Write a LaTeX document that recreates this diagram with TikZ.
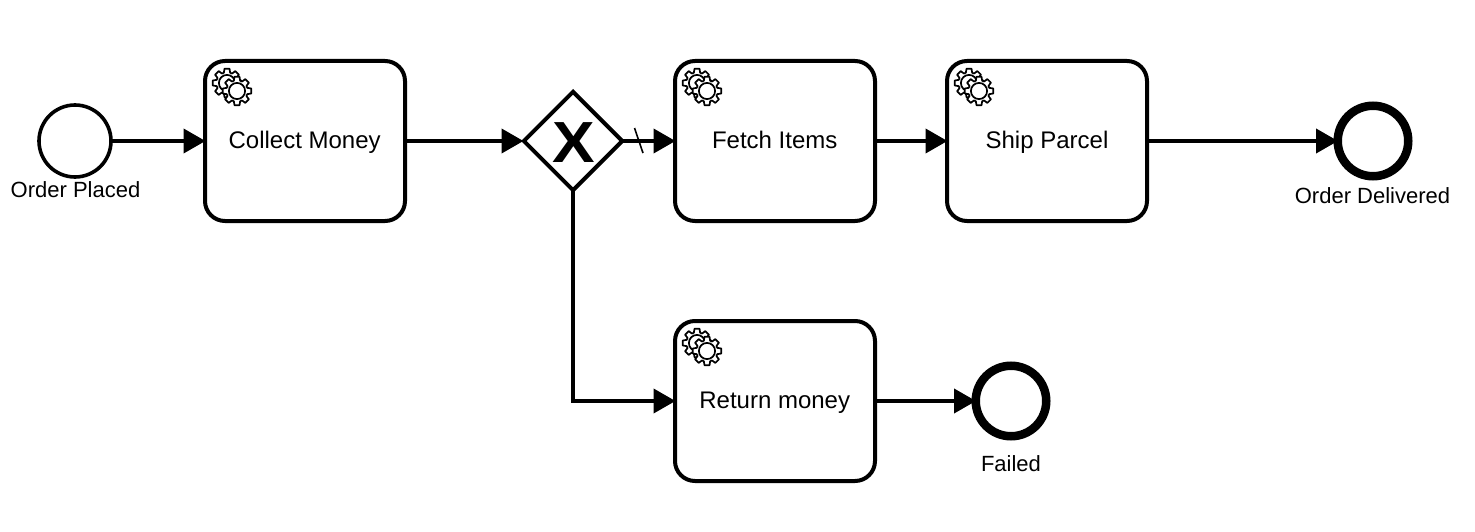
\documentclass[tikz,border=0pt]{standalone}
\usepackage{fontspec}
\setmainfont{Liberation Sans}
\usetikzlibrary{arrows.meta,shapes.geometric}
\tikzset{
  task/.style={draw,line width=4pt,rounded corners=20pt,minimum width=200pt,minimum height=160pt,inner sep=0pt,fill=white},
  tasktext/.style={font=\fontsize{24}{28}\selectfont,inner sep=0pt,anchor=base},
  startev/.style={circle,draw,line width=3.6pt,minimum size=72pt,inner sep=0pt},
  endev/.style={circle,draw,line width=8.5pt,minimum size=70.5pt,inner sep=0pt},
  gate/.style={diamond,draw,line width=4pt,minimum width=100pt,minimum height=100pt,inner sep=0pt,aspect=1},
  evlabel/.style={font=\fontsize{22}{26}\selectfont,inner sep=0pt,anchor=base},
  flow/.style={line width=4pt,-{Triangle[length=22pt,width=24pt]},shorten >=-2.5pt,shorten <=-2pt},
  toend/.style={flow,shorten >=-4.5pt},
}
\newcommand{\cogwheel}[3]{% centre x, y, outer radius
  \begin{scope}[shift={(#1,#2)}]
    \draw[line width=1.7pt,fill=white,line join=round]
      (10:#3)
      \foreach \a in {0,45,...,315}{
        -- (\a+10:#3) -- (\a+17:#3*0.74) -- (\a+28:#3*0.74) -- (\a+35:#3) }
      -- cycle;
    \draw[line width=1.7pt,fill=white] (0,0) circle[radius=#3*0.56];
  \end{scope}
}
\newcommand{\gears}[2]{% top-left corner of task
  \cogwheel{#1+22}{#2+22}{14.5}
  \cogwheel{#1+32}{#2+30}{14.5}
}
\begin{document}
\begin{tikzpicture}[x=1pt,y=-1pt]
\useasboundingbox[fill=white] (0,0) rectangle (1475,532);

\node[startev] (start) at (75,141) {};
\node[evlabel] (startl) at (75.5,197) {Order Placed};

\node[task] (collect) at (305,141) {};
\node[tasktext] (collectt) at (304.7,149) {Collect Money};
\node[task] (fetch) at (775,141) {};
\node[tasktext] (fetcht) at (774.7,149) {Fetch Items};
\node[task] (ship) at (1047,141) {};
\node[tasktext] (shipt) at (1047,149) {Ship Parcel};
\node[task] (ret) at (775,401) {};
\node[tasktext] (rett) at (774.7,408.4) {Return money};

\gears{205}{61}
\gears{675}{61}
\gears{947}{61}
\gears{675}{321}

\node[gate] (gw) at (573,141) {};
\node[font=\fontsize{58}{58}\bfseries\selectfont,inner sep=0pt,xscale=1.1,anchor=base] (gwx) at (573.5,162) {X};

\node[endev] (done) at (1373,141) {};
\node[evlabel] (donel) at (1372.5,203) {Order Delivered};
\node[endev] (fail) at (1011,401) {};
\node[evlabel] (faill) at (1011,471) {Failed};

\draw[flow] (start) -- (collect);
\draw[flow] (collect) -- (gw);
\draw[flow] (gw) -- (fetch);
\draw[flow] (fetch) -- (ship);
\draw[toend] (ship) -- (done);
\draw[toend] (ret) -- (fail);
\draw[flow,line join=miter] (gw.south) |- (ret.west);

\coordinate (slasha) at (634.5,128);
\coordinate (slashb) at (643,153);
\draw[line width=1.6pt] (slasha) -- (slashb);
\end{tikzpicture}
\end{document}
